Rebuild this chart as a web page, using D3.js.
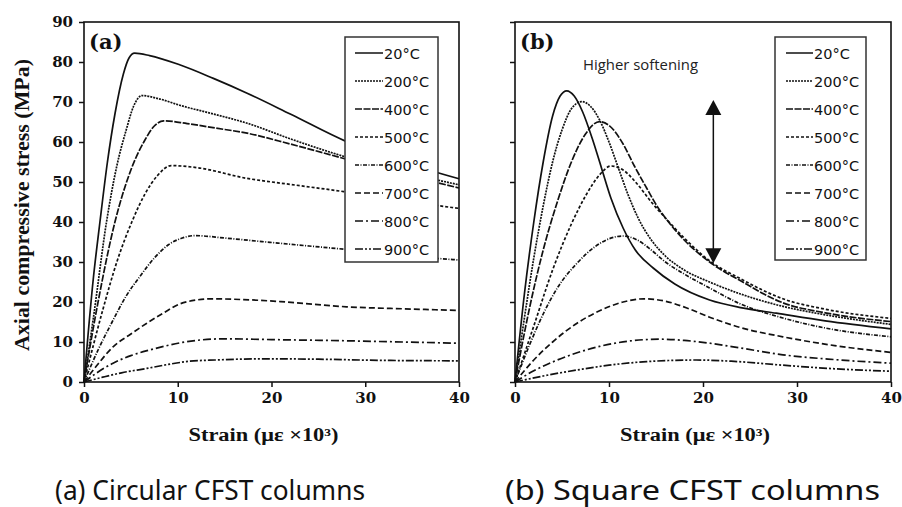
<!DOCTYPE html>
<html>
<head>
<meta charset="utf-8">
<script src="https://cdn.jsdelivr.net/npm/d3@7"></script>
<style>
  html, body { margin: 0; padding: 0; background: #ffffff; }
  svg { display: block; }
</style>
</head>
<body>
<svg id="chart" width="902" height="507"></svg>
<script>
// ---------- DATA ----------
const temperatures = ["20°C", "200°C", "400°C", "500°C", "600°C", "700°C", "800°C", "900°C"];
const xTicks = [0, 10, 20, 30, 40];
const yTicks = [0, 10, 20, 30, 40, 50, 60, 70, 80, 90];

// (a) Circular CFST columns: [strain (x10^3 με), stress (MPa)]
const circ20  = [[0,0],[1,26],[1.7,40],[2.5,55],[3.3,67],[4.2,77],[4.8,81],[5.4,82.2],[7,81.6],[10.2,79.3],[13.8,75.9],[17.4,72.2],[22,67],[28,60.1],[34,55],[40,50.8]];
const circ200 = [[0,0],[1,16],[2.4,40],[3.5,54],[4.5,63],[5.3,69],[6.2,71.6],[8,70.8],[10.2,69.2],[13.8,67],[17.4,64.7],[22,60.8],[28,56.2],[34,52.5],[40,49.3]];
const circ400 = [[0,0],[1.5,20],[3.3,40],[5,53],[6.5,60.5],[7.5,64],[8.5,65.3],[11,64.6],[14,63.5],[17.4,62.2],[22,59.5],[28,55.7],[34,52],[40,48.5]];
const circ500 = [[0,0],[2,18],[3.5,30],[5.1,40],[6.5,47],[7.8,51.5],[9.3,54.1],[12,53.6],[17.4,50.9],[22,49.4],[27.7,47.6],[34,45.3],[40,43.4]];
const circ600 = [[0,0],[1.5,8],[3,15],[4.5,21.5],[6,26.5],[7.5,31],[9,34.3],[10.5,36],[11.8,36.6],[15,36],[19,35.1],[24,34],[27.7,33.2],[33,31.8],[40,30.5]];
const circ700 = [[0,0],[1.5,4.5],[3.1,8.8],[5,12],[6.7,14.7],[8.5,17.3],[10.2,19.5],[12,20.5],[13.4,20.8],[17,20.6],[21,20.1],[28,18.8],[34,18.3],[40,17.9]];
const circ800 = [[0,0],[1.5,2.5],[3.1,4.7],[5,6.6],[7,8],[8.5,8.9],[10.5,9.9],[12,10.4],[15,10.8],[20,10.6],[28,10.3],[34,10],[40,9.7]];
const circ900 = [[0,0],[2,1.2],[4,2.3],[6.7,3.4],[9,4.4],[11.3,5.2],[14,5.5],[19,5.8],[25,5.7],[32,5.4],[40,5.3]];

// (b) Square CFST columns
const sq20  = [[0,0],[1,22],[2,40],[3,55],[4,66.5],[4.8,71.5],[5.5,72.8],[6.3,71.5],[7.2,67.5],[8.2,61],[9.2,53.5],[10.2,46],[11.5,38.5],[12.8,33],[14.7,28.5],[17,24.5],[20.7,20.5],[24,18.6],[27.8,17.2],[33,15.3],[40,13.3]];
const sq200 = [[0,0],[1,16],[2,31],[3,44],[4,55],[5,63],[6,68.3],[7.1,70.1],[8,69],[9,65.5],[10,60],[11,53.5],[12,47],[13.1,41],[14.5,35.5],[16,31.5],[18,28],[20.7,25],[24,22],[28,19.2],[33,16.8],[40,14.4]];
const sq400 = [[0,0],[1.5,18],[3,33],[4.5,45],[6,55],[7.5,62],[9,65.1],[10.3,63.5],[11.5,59.5],[12.7,54],[14,48.5],[15.1,44],[16.5,39.5],[18,35.5],[20.7,30],[24,25.3],[28.5,19.8],[33,17.3],[40,15.1]];
const sq500 = [[0,0],[2,14],[4,28],[6,39.5],[7.5,46.5],[9,51.8],[10.2,54],[11.5,53],[13,49.5],[14.5,45],[16,41],[18,36],[20.7,30.3],[24,25.8],[28.5,20.8],[33,18.2],[40,15.9]];
const sq600 = [[0,0],[1.5,9],[3,17],[4.5,23.5],[6.6,29.7],[8.5,33.8],[10,35.8],[11.5,36.5],[13,35.5],[14.5,33],[16,30],[18,27],[20.7,23.5],[24,19.5],[28.5,16],[33,13.5],[40,11.3]];
const sq700 = [[0,0],[2,5.5],[4,10],[6.6,14.7],[9,17.8],[11.5,20],[13.7,20.8],[16,20.2],[18.5,18.3],[20.7,16.2],[24,13.6],[28.5,11.3],[34,9.1],[40,7.4]];
const sq800 = [[0,0],[2,2.8],[4,5],[6.6,7.3],[9,8.9],[12,10.2],[15.4,10.7],[18,10.4],[20.7,9.7],[24,8.5],[28.5,6.8],[34,5.6],[40,4.7]];
const sq900 = [[0,0],[3,1.5],[6.6,3],[10,4.2],[14,5.1],[19.3,5.5],[23,5.2],[28.5,4.2],[34,3.3],[40,2.7]];

const circularSeries = [circ20, circ200, circ400, circ500, circ600, circ700, circ800, circ900];
const squareSeries   = [sq20, sq200, sq400, sq500, sq600, sq700, sq800, sq900];

// Arrow annotation in panel (b): strain, stress top, stress bottom
const arrowStrain = 21.1;
const arrowTop = 70.5;
const arrowBottom = 29.7;

// ---------- STYLES ----------
const dashes = ["none", "2,1", "7,1.5", "3,2", "4,1.5,1,1.5", "6,3", "8,3,2,3", "8,2,2,2,2,2"];

const svg = d3.select("#chart");
svg.append("rect").attr("width", 902).attr("height", 507).attr("fill", "#fff");

const panels = [
  { id: "a", series: circularSeries, x0: 84, x1: 459, y0: 382, y1: 22, label: "(a)", showY: true,
    legend: { x: 345, y: 37, w: 93, h: 225, lx0: 355, lx1: 383, tx: 384 } },
  { id: "b", series: squareSeries, x0: 515, x1: 891, y0: 382, y1: 22, label: "(b)", showY: false,
    legend: { x: 775, y: 37, w: 91, h: 223, lx0: 786, lx1: 813, tx: 814 } }
];

panels.forEach(p => {
  const x = d3.scaleLinear().domain([0, 40]).range([p.x0, p.x1]);
  const y = d3.scaleLinear().domain([0, 90]).range([p.y0, p.y1]);
  const g = svg.append("g");

  // curves
  const line = d3.line().x(d => x(d[0])).y(d => y(d[1])).curve(d3.curveMonotoneX);
  p.series.forEach((s, i) => {
    g.append("path").datum(s)
      .attr("d", line)
      .attr("fill", "none")
      .attr("stroke", "#111")
      .attr("stroke-width", 1.7)
      .attr("stroke-dasharray", dashes[i]);
  });

  // axes
  const yAxis = d3.axisLeft(y).tickValues(yTicks).tickSize(5).tickPadding(6);
  if (!p.showY) yAxis.tickFormat("");
  const ya = g.append("g").attr("transform", `translate(${p.x0},0)`).call(yAxis);
  const xa = g.append("g").attr("transform", `translate(0,${p.y0})`)
    .call(d3.axisBottom(x).tickValues(xTicks).tickSize(5).tickPadding(5));
  [ya, xa].forEach(a => {
    a.select(".domain").remove();
    a.selectAll(".tick line").attr("stroke", "#111").attr("stroke-width", 1.5);
    a.selectAll(".tick text")
      .attr("fill", "#111")
      .style("font-family", "'DejaVu Serif', serif")
      .style("font-weight", "bold")
      .style("font-size", "15px");
  });

  // frame
  g.append("rect")
    .attr("x", p.x0).attr("y", p.y1)
    .attr("width", p.x1 - p.x0).attr("height", p.y0 - p.y1)
    .attr("fill", "none").attr("stroke", "#111").attr("stroke-width", 1.6);

  // panel label
  g.append("text").attr("x", p.x0 + 5).attr("y", p.y1 + 27)
    .text(p.label)
    .style("font-family", "'DejaVu Serif', serif")
    .style("font-weight", "bold").style("font-size", "21px").attr("fill", "#111");

  // x label
  g.append("text").attr("x", (p.x0 + p.x1) / 2 - 8).attr("y", 441)
    .attr("text-anchor", "middle")
    .attr("textLength", 150).attr("lengthAdjust", "spacingAndGlyphs")
    .style("font-family", "'Liberation Serif', serif")
    .style("font-weight", "bold").style("font-size", "18px").attr("fill", "#111")
    .text("Strain (με ×10³)");

  // legend
  const L = p.legend;
  const lg = g.append("g");
  lg.append("rect").attr("x", L.x).attr("y", L.y).attr("width", L.w).attr("height", L.h)
    .attr("fill", "#fff").attr("stroke", "#333").attr("stroke-width", 1.5);
  temperatures.forEach((t, i) => {
    const ly = 53 + i * 28;
    lg.append("line").attr("x1", L.lx0).attr("x2", L.lx1).attr("y1", ly).attr("y2", ly)
      .attr("stroke", "#111").attr("stroke-width", 1.5).attr("stroke-dasharray", dashes[i]);
    lg.append("text").attr("x", L.tx).attr("y", ly + 5.5)
      .style("font-family", "'DejaVu Sans', sans-serif")
      .style("font-size", "14.5px").attr("fill", "#111")
      .text(t);
  });

  if (p.id === "b") {
    // arrow annotation
    const ax = x(arrowStrain);
    const yt = y(arrowTop), yb = y(arrowBottom);
    g.append("line").attr("x1", ax).attr("x2", ax).attr("y1", yt + 12).attr("y2", yb - 12)
      .attr("stroke", "#111").attr("stroke-width", 1.5);
    g.append("path").attr("d", `M${ax},${yt} L${ax - 8},${yt + 15} L${ax + 8},${yt + 15} Z`).attr("fill", "#111");
    g.append("path").attr("d", `M${ax},${yb} L${ax - 8},${yb - 15} L${ax + 8},${yb - 15} Z`).attr("fill", "#111");
    g.append("text").attr("x", 583).attr("y", 70)
      .attr("textLength", 115).attr("lengthAdjust", "spacingAndGlyphs")
      .style("font-family", "'Open Sans', sans-serif")
      .style("font-size", "14px").attr("fill", "#222")
      .text("Higher softening");
  }
});

// y axis title
svg.append("text")
  .attr("transform", "translate(29,205) rotate(-90)")
  .attr("text-anchor", "middle")
  .attr("textLength", 292).attr("lengthAdjust", "spacingAndGlyphs")
  .style("font-family", "'Liberation Serif', serif")
  .style("font-weight", "bold").style("font-size", "21px").attr("fill", "#111")
  .text("Axial compressive stress (MPa)");

// captions
svg.append("text").attr("x", 55).attr("y", 500)
  .attr("textLength", 310).attr("lengthAdjust", "spacingAndGlyphs")
  .style("font-family", "'Noto Sans', sans-serif").style("font-size", "28px").attr("fill", "#111")
  .text("(a)  Circular CFST columns");
svg.append("text").attr("x", 505).attr("y", 500)
  .attr("textLength", 375).attr("lengthAdjust", "spacingAndGlyphs")
  .style("font-family", "'Noto Sans', sans-serif").style("font-size", "28px").attr("fill", "#111")
  .text("(b) Square CFST columns");
</script>
</body>
</html>
